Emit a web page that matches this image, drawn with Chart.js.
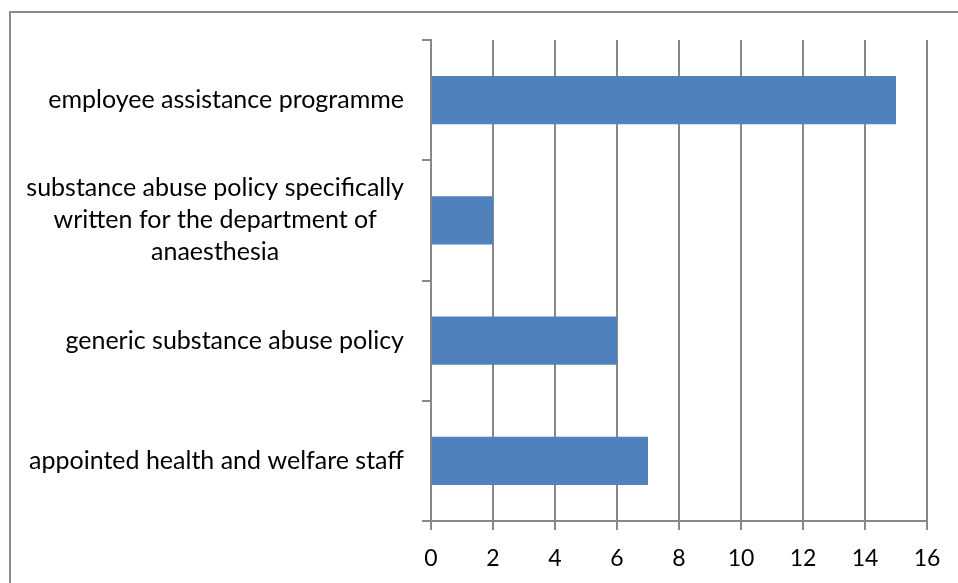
<!DOCTYPE html>
<html>
<head>
<meta charset="utf-8">
<script src="https://cdn.jsdelivr.net/npm/chart.js@4/dist/chart.umd.min.js"></script>
<style>
  html, body { margin: 0; padding: 0; background: #fff; }
  #wrap { position: relative; width: 958px; height: 583px; }
</style>
</head>
<body>
<div id="wrap"><canvas id="barChart" width="958" height="583"></canvas></div>
<script>
// Categories, top to bottom; multi-line labels are arrays of lines
const categories = [
    'employee assistance programme',
    ['substance abuse policy specifically', 'written for the department of', 'anaesthesia'],
    'generic substance abuse policy',
    'appointed health and welfare staff'
];
const counts = [15, 2, 6, 7];
const xTicks = [0, 2, 4, 6, 8, 10, 12, 14, 16];

const FONT = "Lato, 'Open Sans', sans-serif";
const LABEL_SIZE = 25;
const TICK_SIZE = 23;
const LINE_HEIGHT = 32;
const GRID = '#888888';

// Outer frame of the chart object
const framePlugin = {
    id: 'frame',
    beforeDraw(chart) {
        const ctx = chart.ctx;
        ctx.save();
        ctx.strokeStyle = '#8c8c8c';
        ctx.lineWidth = 2;
        ctx.strokeRect(10, 12, 1200, 1200);
        ctx.restore();
    }
};

// Category labels: each block right-aligned against the axis, lines centred inside it
const categoryLabels = {
    id: 'categoryLabels',
    afterDraw(chart) {
        const ctx = chart.ctx;
        const yScale = chart.scales.y;
        const right = chart.chartArea.left - 27;
        ctx.save();
        ctx.font = LABEL_SIZE + 'px ' + FONT;
        ctx.fillStyle = '#000';
        ctx.textAlign = 'center';
        ctx.textBaseline = 'middle';
        categories.forEach((label, i) => {
            const lines = Array.isArray(label) ? label : [label];
            const w = Math.max(...lines.map(l => ctx.measureText(l).width));
            const cx = right - w / 2;
            const cy = yScale.getPixelForTick(i);
            const y0 = cy - (lines.length - 1) * LINE_HEIGHT / 2;
            lines.forEach((line, j) => ctx.fillText(line, cx, y0 + j * LINE_HEIGHT));
        });
        ctx.restore();
    }
};

const ctx = document.getElementById('barChart').getContext('2d');
new Chart(ctx, {
    type: 'bar',
    data: {
        labels: categories,
        datasets: [{
            data: counts,
            backgroundColor: '#4f81bd',
            borderWidth: 0,
            barPercentage: 0.4,
            categoryPercentage: 1
        }]
    },
    options: {
        indexAxis: 'y',
        responsive: false,
        animation: false,
        devicePixelRatio: 1,
        layout: { padding: { top: 40, right: 31, bottom: 0, left: 0 } },
        plugins: {
            legend: { display: false },
            tooltip: { enabled: false }
        },
        scales: {
            x: {
                min: 0,
                max: 16,
                afterBuildTicks: (scale) => { scale.ticks = xTicks.map(v => ({ value: v })); },
                afterFit: (scale) => { scale.height = 62; },
                grid: { color: GRID, lineWidth: 2, tickLength: 9, drawTicks: true },
                border: { display: true, color: GRID, width: 2 },
                ticks: {
                    color: '#000',
                    padding: 15,
                    font: { family: FONT, size: TICK_SIZE }
                }
            },
            y: {
                offset: true,
                afterFit: (scale) => { scale.width = 431; },
                grid: { offset: true, drawOnChartArea: false, color: GRID, lineWidth: 2, tickLength: 9 },
                border: { display: true, color: GRID, width: 2 },
                ticks: { display: false }
            }
        }
    },
    plugins: [framePlugin, categoryLabels]
});
</script>
</body>
</html>
